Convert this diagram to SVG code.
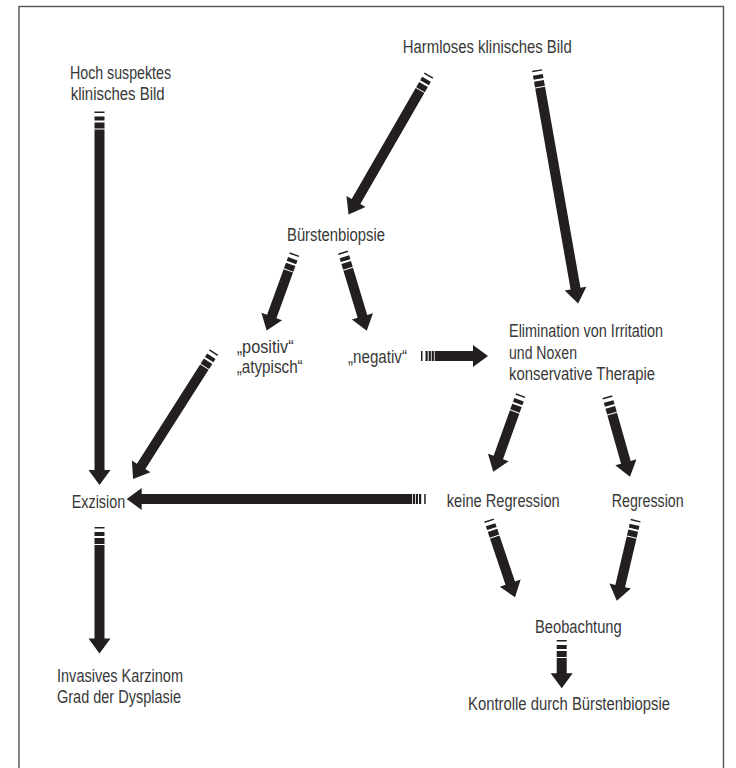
<svg xmlns="http://www.w3.org/2000/svg" xmlns:xlink="http://www.w3.org/1999/xlink" width="736" height="768" viewBox="0 0 736 768">
<style>
text{font-family:"Liberation Sans",Arial,sans-serif;font-size:17.5px;fill:#383838;}
.a{fill:#231f20;}
</style>
<defs>
<g id="tailA" class="a"><rect x="0" y="-5" width="1.5" height="10"/><rect x="5" y="-5" width="4" height="10"/><rect x="11" y="-5" width="6" height="10"/></g>
<g id="tailH" class="a"><rect x="0" y="-5" width="1.5" height="10"/><rect x="4.5" y="-5" width="2.2" height="10"/><rect x="7.7" y="-5" width="2.2" height="10"/><rect x="10.7" y="-5" width="2.2" height="10"/></g>
</defs>
<rect x="19" y="6.5" width="704.5" height="800" fill="none" stroke="#555" stroke-width="1.4"/>
<g id="connectors">
<g id="e1" transform="translate(99.5,111.5) rotate(90)"><use xlink:href="#tailA"/><path class="a" d="M18,-5H358.5V-11L373.5,0L358.5,11V5H18Z"/></g>
<g id="e2" transform="translate(429,75) rotate(120)"><use xlink:href="#tailA"/><path class="a" d="M18,-5H146V-11L161,0L146,11V5H18Z"/></g>
<g id="e3" transform="translate(537,70) rotate(80)"><use xlink:href="#tailA"/><path class="a" d="M18,-5H222V-11L237,0L222,11V5H18Z"/></g>
<g id="e4" transform="translate(294.5,254) rotate(110)"><use xlink:href="#tailA"/><path class="a" d="M18,-5H66.5V-11L81.5,0L66.5,11V5H18Z"/></g>
<g id="e5" transform="translate(343,252) rotate(73.2)"><use xlink:href="#tailA"/><path class="a" d="M18,-5H67.2V-11L82.2,0L67.2,11V5H18Z"/></g>
<g id="e6" transform="translate(421,356)"><use xlink:href="#tailH"/><path class="a" d="M13.7,-5H52V-11L67,0L52,11V5H13.7Z"/></g>
<g id="e7" transform="translate(214,352) rotate(122.5)"><use xlink:href="#tailA"/><path class="a" d="M18,-5H135.6V-11L150.6,0L135.6,11V5H18Z"/></g>
<g id="e8" transform="translate(425.7,499) rotate(180)"><use xlink:href="#tailH"/><path class="a" d="M13.7,-5H284V-11L299,0L284,11V5H13.7Z"/></g>
<g id="e9" transform="translate(520.7,395) rotate(109.7)"><use xlink:href="#tailA"/><path class="a" d="M18,-5H66.4V-11L81.4,0L66.4,11V5H18Z"/></g>
<g id="e10" transform="translate(607.3,396.7) rotate(74.2)"><use xlink:href="#tailA"/><path class="a" d="M18,-5H68.2V-11L83.2,0L68.2,11V5H18Z"/></g>
<g id="e11" transform="translate(489,520) rotate(71.4)"><use xlink:href="#tailA"/><path class="a" d="M18,-5H66.6V-11L81.6,0L66.6,11V5H18Z"/></g>
<g id="e12" transform="translate(635.7,520) rotate(103.2)"><use xlink:href="#tailA"/><path class="a" d="M18,-5H67.9V-11L82.9,0L67.9,11V5H18Z"/></g>
<g id="e13" transform="translate(561.7,640) rotate(90)"><use xlink:href="#tailA"/><path class="a" d="M18,-5H33.3V-11L48.3,0L33.3,11V5H18Z"/></g>
<g id="e14" transform="translate(99.5,527) rotate(90)"><use xlink:href="#tailA"/><path class="a" d="M18,-5H111.5V-11L126.5,0L111.5,11V5H18Z"/></g>
</g>
<g id="n-harmlos"><text x="402.7" y="52.7" textLength="169" lengthAdjust="spacingAndGlyphs">Harmloses klinisches Bild</text></g>
<g id="n-hoch"><text x="70" y="79" textLength="101" lengthAdjust="spacingAndGlyphs">Hoch suspektes</text><text x="70.7" y="99.5" textLength="94" lengthAdjust="spacingAndGlyphs">klinisches Bild</text></g>
<g id="n-buerst"><text x="287" y="241" textLength="98" lengthAdjust="spacingAndGlyphs">Bürstenbiopsie</text></g>
<g id="n-positiv"><text x="236.7" y="353" textLength="57" lengthAdjust="spacingAndGlyphs">„positiv“</text><text x="236.7" y="373" textLength="66" lengthAdjust="spacingAndGlyphs">„atypisch“</text></g>
<g id="n-negativ"><text x="348" y="363" textLength="59" lengthAdjust="spacingAndGlyphs">„negativ“</text></g>
<g id="n-elim"><text x="509" y="337" textLength="154" lengthAdjust="spacingAndGlyphs">Elimination von Irritation</text><text x="509" y="358.5" textLength="68" lengthAdjust="spacingAndGlyphs">und Noxen</text><text x="509" y="380" textLength="146" lengthAdjust="spacingAndGlyphs">konservative Therapie</text></g>
<g id="n-exzision"><text x="71.7" y="507.5" textLength="53.5" lengthAdjust="spacingAndGlyphs">Exzision</text></g>
<g id="n-keine"><text x="446.7" y="507" textLength="113" lengthAdjust="spacingAndGlyphs">keine Regression</text></g>
<g id="n-regr"><text x="611.7" y="507" textLength="72" lengthAdjust="spacingAndGlyphs">Regression</text></g>
<g id="n-beob"><text x="535" y="632.7" textLength="86.7" lengthAdjust="spacingAndGlyphs">Beobachtung</text></g>
<g id="n-kontrolle"><text x="468" y="710" textLength="202" lengthAdjust="spacingAndGlyphs">Kontrolle durch Bürstenbiopsie</text></g>
<g id="n-invasiv"><text x="57" y="682" textLength="126" lengthAdjust="spacingAndGlyphs">Invasives Karzinom</text><text x="57" y="703" textLength="124" lengthAdjust="spacingAndGlyphs">Grad der Dysplasie</text></g>
</svg>
